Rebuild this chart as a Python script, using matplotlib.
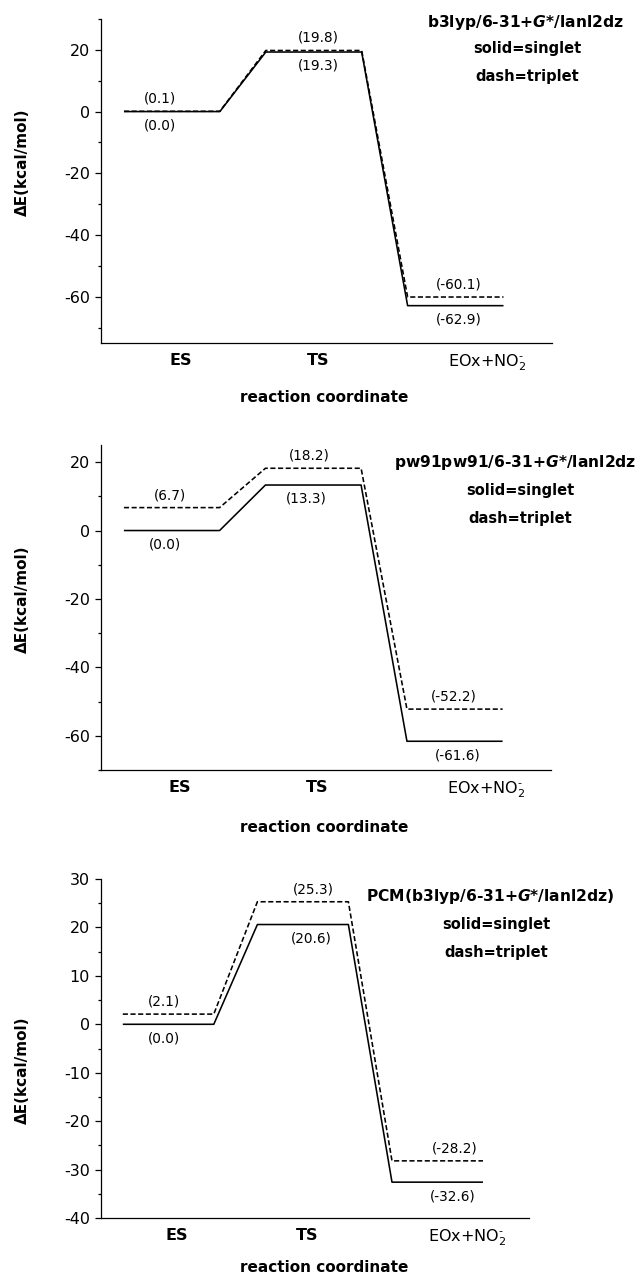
import matplotlib
matplotlib.use("Agg")
import matplotlib.pyplot as plt
from matplotlib.ticker import MultipleLocator

# ---------------- data ----------------
stages = ["ES", "TS", "EOx+NO$_2^{\u2010}$"]
stage_bold = [True, True, False]

singlet_b3lyp = [0.0, 19.3, -62.9]
triplet_b3lyp = [0.1, 19.8, -60.1]

singlet_pw91 = [0.0, 13.3, -61.6]
triplet_pw91 = [6.7, 18.2, -52.2]

singlet_pcm = [0.0, 20.6, -32.6]
triplet_pcm = [2.1, 25.3, -28.2]

titles = ["b3lyp/6-31+$\\mathbfit{G}$*/lanl2dz",
          "pw91pw91/6-31+$\\mathbfit{G}$*/lanl2dz",
          "PCM(b3lyp/6-31+$\\mathbfit{G}$*/lanl2dz)"]

# ---------------- style ----------------
plt.rcParams["axes.unicode_minus"] = False
plt.rcParams["font.family"] = ["DejaVu Sans"]
plt.rcParams["mathtext.fontset"] = "custom"
plt.rcParams["mathtext.rm"] = "DejaVu Sans"
plt.rcParams["mathtext.it"] = "DejaVu Sans:italic"
plt.rcParams["mathtext.bf"] = "DejaVu Sans:bold"
plt.rcParams["mathtext.bfit"] = "DejaVu Sans:italic:bold"

W, H = 638, 1280
fig = plt.figure(figsize=(W / 100, H / 100), dpi=100)


def rect(l, r, t, b):
    return [l / W, 1 - b / H, (r - l) / W, (b - t) / H]


panels = [
    dict(single=singlet_b3lyp, trip=triplet_b3lyp, title=titles[0],
         box=rect(101, 552, 19, 343), ylim=(-75, 30), major=20, minor=10,
         title_xy=(624, 23), title_ha="right", note_x=527, note_y=(49, 76),
         ylab_y=162, xlab_y=397,
         dx_top=[-0.085, 0.03, 0.02], dx_bot=[-0.085, 0.03, 0.02]),
    dict(single=singlet_pw91, trip=triplet_pw91, title=titles[1],
         box=rect(101, 551, 445, 770), ylim=(-70, 25), major=20, minor=10,
         title_xy=(636, 462), title_ha="right", note_x=520, note_y=(490, 519),
         ylab_y=599, xlab_y=828,
         dx_top=[-0.01, -0.025, -0.01], dx_bot=[-0.05, -0.05, 0.02]),
    dict(single=singlet_pcm, trip=triplet_pcm, title=titles[2],
         box=rect(101, 529, 879, 1218), ylim=(-40, 30), major=10, minor=5,
         title_xy=(614, 897), title_ha="right", note_x=496, note_y=(924, 952),
         ylab_y=1070, xlab_y=1268,
         dx_top=[-0.03, 0.08, 0.13], dx_bot=[-0.03, 0.06, 0.115]),
]

half = 0.338
centers = [0, 1, 2]
label_x = [0.06, 1.03, 2.22]

for p in panels:
    ax = fig.add_axes(p["box"])
    for s in ["top", "right"]:
        ax.spines[s].set_visible(False)
    for s in ["left", "bottom"]:
        ax.spines[s].set_linewidth(0.9)
    ax.set_xlim(-0.5, 2.68)
    ax.set_ylim(*p["ylim"])
    ax.yaxis.set_major_locator(MultipleLocator(p["major"]))
    ax.yaxis.set_minor_locator(MultipleLocator(p["minor"]))
    ax.tick_params(axis="y", which="major", length=4, width=0.9, labelsize=11.5, pad=4)
    ax.tick_params(axis="y", which="minor", length=2.5, width=0.9)

    # level diagrams
    for vals, ls in [(p["single"], "-"), (p["trip"], (0, (3.2, 1.6)))]:
        xs, ys = [], []
        for c, v in zip(centers, vals):
            xs += [c - half, c + half]
            ys += [v, v]
        ax.plot(xs, ys, color="black", lw=1.15, linestyle=ls, solid_capstyle="butt")

    # value labels
    for i, c in enumerate(centers):
        s, t = p["single"][i], p["trip"][i]
        top, bot = (t, s) if t >= s else (s, t)
        ax.annotate(f"({top:.1f})", (c + p["dx_top"][i], top), xytext=(0, 9),
                    textcoords="offset points", ha="center", va="center", fontsize=9.8)
        ax.annotate(f"({bot:.1f})", (c + p["dx_bot"][i], bot), xytext=(0, -10),
                    textcoords="offset points", ha="center", va="center", fontsize=9.8)

    # x labels
    ax.set_xticks(label_x)
    ax.set_xticklabels(stages)
    ax.tick_params(axis="x", length=0, pad=7, labelsize=11.5)
    for lab, b in zip(ax.get_xticklabels(), stage_bold):
        lab.set_fontweight("bold" if b else "normal")

    fig.text(324 / W, 1 - p["xlab_y"] / H, "reaction coordinate", ha="center",
             va="center", fontsize=11, fontweight="bold")

    # titles / notes
    tx, ty = p["title_xy"]
    fig.text(tx / W, 1 - ty / H, p["title"], ha=p["title_ha"], va="center",
             fontsize=11.2, fontweight="bold")
    fig.text(p["note_x"] / W, 1 - p["note_y"][0] / H, "solid=singlet", ha="center",
             va="center", fontsize=10.5, fontweight="bold")
    fig.text(p["note_x"] / W, 1 - p["note_y"][1] / H, "dash=triplet", ha="center",
             va="center", fontsize=10.5, fontweight="bold")
    fig.text(22 / W, 1 - p["ylab_y"] / H, "ΔE(kcal/mol)", rotation=90, ha="center",
             va="center", fontsize=11, fontweight="bold")

fig.savefig("out.png", dpi=100, facecolor="white")
